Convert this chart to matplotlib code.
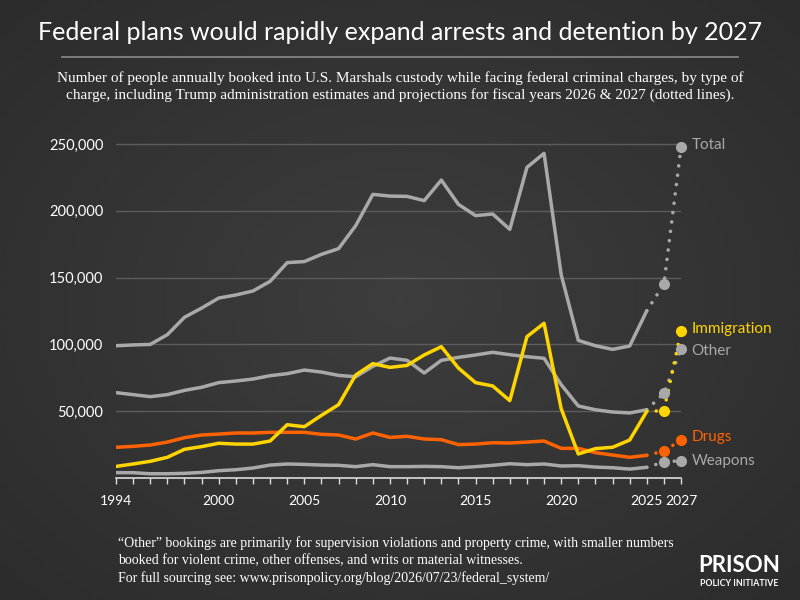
import matplotlib
matplotlib.use("Agg")
import matplotlib.pyplot as plt
import numpy as np

plt.rcParams['font.family'] = ['Lato', 'DejaVu Sans']

years = list(range(1994, 2026))
proj_years = [2025, 2026, 2027]

total = [99000, 99600, 100000, 107300, 120300, 127200, 134700, 137000, 140000, 147200,
         161200, 162000, 167400, 171700, 188900, 212300, 211000, 210800, 207600, 223000,
         204800, 196400, 197600, 186100, 232500, 243000, 152200, 103000, 99000, 96300,
         98800, 125200]
total_proj = [125200, 145200, 247500]

immigration = [8700, 10500, 12500, 15500, 21500, 23500, 26000, 25400, 25400, 27700,
               39900, 38400, 46900, 54900, 77100, 85600, 82800, 84300, 92100, 98300,
               82300, 71400, 68900, 57900, 105800, 115800, 51900, 18000, 22000, 23000,
               28400, 49900]
immigration_proj = [49900, 50400, 109800]

other = [63900, 62400, 60900, 62400, 65600, 67900, 71400, 72600, 74100, 76600,
         78100, 80800, 79300, 76800, 75800, 83600, 89800, 88100, 78600, 88100,
         90300, 92100, 94100, 92300, 90800, 89600, 69900, 53900, 51100, 49400,
         48700, 51100]
other_proj = [51100, 63400, 96800]

drugs = [23000, 23700, 24700, 26900, 30200, 32200, 32900, 33700, 33700, 34200,
         34200, 34200, 32700, 32200, 29200, 33700, 30400, 31200, 29200, 28700,
         25000, 25400, 26400, 26200, 26900, 27700, 22200, 22200, 19000, 17200,
         15500, 17000]
drugs_proj = [17000, 20200, 28400]

weapons = [4000, 4000, 3200, 3200, 3500, 4200, 5500, 6200, 7500, 9700,
           10500, 10200, 9700, 9500, 8500, 10000, 8500, 8500, 8700, 8500,
           7700, 8500, 9500, 10700, 10000, 10500, 9000, 9200, 8200, 7700,
           6700, 8000]
weapons_proj = [8000, 12000, 13000]

GREY = '#a9a9a9'
YELLOW = '#ffd500'
ORANGE = '#ff6200'

series = [
    ("Total", total, total_proj, GREY),
    ("Other", other, other_proj, GREY),
    ("Weapons", weapons, weapons_proj, GREY),
    ("Drugs", drugs, drugs_proj, ORANGE),
    ("Immigration", immigration, immigration_proj, YELLOW),
]
label_offsets = {"Total": 1500, "Immigration": 1500, "Other": -1500, "Drugs": 2000, "Weapons": -500}

fig = plt.figure(figsize=(8, 6), dpi=100)

# background radial gradient
bg = fig.add_axes([0, 0, 1, 1], zorder=-10)
yy, xx = np.mgrid[-1:1:300j, -1:1:400j]
r = np.sqrt(xx**2 + yy**2)
bg.imshow(-r, cmap=matplotlib.colors.LinearSegmentedColormap.from_list('bg', ['#2c2c2c', '#3d3d3d']),
          aspect='auto', extent=[0, 1, 0, 1])
bg.axis('off')

ax = fig.add_axes([0.145, 0.2033, 0.7063, 0.5567 * 1.04])
ax.set_facecolor('none')

for name, vals, proj, col in series:
    ax.plot(years, vals, color=col, lw=2.5, solid_capstyle='round', solid_joinstyle='round', zorder=3)
    ax.plot(proj_years, proj, color=col, lw=2.6, linestyle=(0, (0.01, 2.6)),
            dash_capstyle='round', clip_on=False, zorder=3)
    ax.plot(proj_years[1:], proj[1:], 'o', color=col, ms=7, clip_on=False, zorder=4)
    ax.text(2027.6, proj[-1] + label_offsets[name], name, color=col, fontsize=11,
            va='center', ha='left', clip_on=False)

ax.set_xlim(1994, 2027)
ax.set_ylim(0, 260000)
ax.set_yticks([50000, 100000, 150000, 200000, 250000])
ax.set_yticklabels(['50,000', '100,000', '150,000', '200,000', '250,000'])
ax.set_xticks([1994, 2000, 2005, 2010, 2015, 2020, 2025, 2027])
ax.set_xticks(range(1994, 2028), minor=True)
ax.grid(axis='y', color='#5c5c5c', lw=1)
ax.set_axisbelow(True)
for s in ['top', 'right', 'left']:
    ax.spines[s].set_visible(False)
ax.spines['bottom'].set_color('#dddddd')
ax.spines['bottom'].set_linewidth(1.2)
ax.tick_params(axis='y', length=0, colors='white', labelsize=10.5, pad=9)
ax.tick_params(axis='x', which='both', colors='#dddddd', labelcolor='white', labelsize=10,
               direction='out', length=4, width=1, pad=8)

fig.text(0.5, 0.945, "Federal plans would rapidly expand arrests and detention by 2027",
         ha='center', va='center', color='white', fontsize=18)
fig.add_artist(plt.Line2D([0.078, 0.922], [0.905, 0.905], color='#8a8a8a', lw=1.2))
fig.text(0.5, 0.855, "Number of people annually booked into U.S. Marshals custody while facing federal criminal charges, by type of\n"
         "charge, including Trump administration estimates and projections for fiscal years 2026 & 2027 (dotted lines).",
         ha='center', va='center', color='white', fontsize=11, family='Liberation Serif', linespacing=1.3)

fig.text(0.147, 0.065, "\u201cOther\u201d bookings are primarily for supervision violations and property crime, with smaller numbers\n"
         "booked for violent crime, other offenses, and writs or material witnesses.\n"
         "For full sourcing see: www.prisonpolicy.org/blog/2026/07/23/federal_system/",
         ha='left', va='center', color='white', fontsize=10, family='Liberation Serif', linespacing=1.4)

fig.text(0.924, 0.058, "PRISON", ha='center', va='center', color='white', fontsize=16, weight='bold')
fig.text(0.924, 0.028, "POLICY INITIATIVE", ha='center', va='center', color='white', fontsize=6.3, weight='bold')

fig.savefig('out.png', dpi=100, facecolor='#333333')
